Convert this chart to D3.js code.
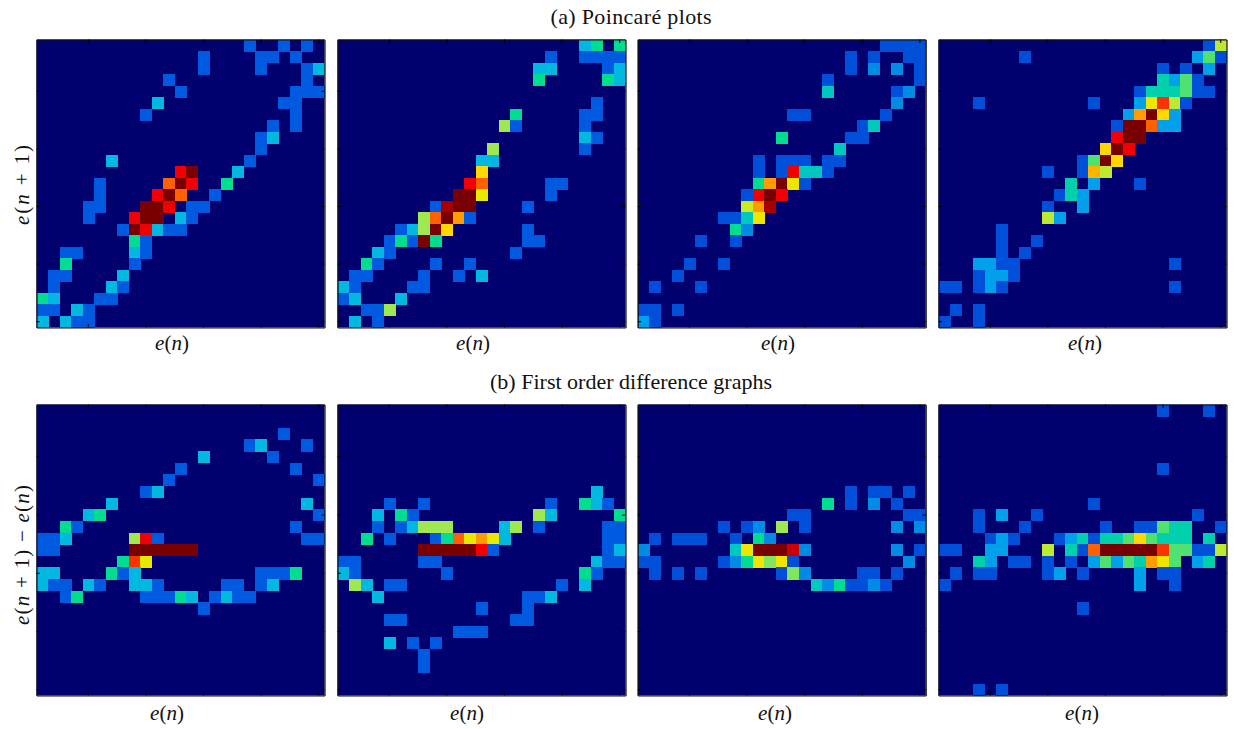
<!DOCTYPE html>
<html><head><meta charset="utf-8">
<script src="https://cdn.jsdelivr.net/npm/d3@7"></script>
<style>html,body{margin:0;padding:0;background:#fff}svg{display:block}text{font-family:"Liberation Serif",serif;fill:#111}</style>
</head><body><svg id="c" width="1234" height="729"></svg>
<script>
// Every entry is [row from top, column, intensity level]; unlisted bins are level 0.
const poincare1 = [
[0,18,1],[0,21,1],[0,23,1],
[1,14,1],[1,19,1],[1,20,1],[1,22,1],
[2,14,1],[2,19,1],[2,23,1],[2,24,2],
[3,11,1],[3,23,1],
[4,12,1],[4,22,1],[4,23,1],[4,24,1],
[5,10,2],[5,21,1],[5,22,1],
[6,9,1],[6,22,1],
[7,20,1],[7,22,1],
[8,19,1],[8,20,2],
[9,19,1],
[10,6,2],[10,18,1],
[11,12,8],[11,13,10],[11,17,2],
[12,5,1],[12,11,7],[12,12,10],[12,13,8],[12,16,3],
[13,5,1],[13,10,8],[13,11,10],[13,12,7],[13,15,1],
[14,4,1],[14,5,1],[14,9,10],[14,10,10],[14,11,8],[14,13,1],[14,14,1],
[15,4,1],[15,8,8],[15,9,10],[15,10,10],[15,12,2],[15,13,1],
[16,7,1],[16,8,10],[16,9,8],[16,10,2],[16,11,1],[16,12,1],
[17,8,3],[17,9,1],
[18,2,1],[18,3,1],[18,8,2],[18,9,1],
[19,2,3],[19,8,1],
[20,1,1],[20,2,1],[20,7,2],
[21,1,1],[21,6,2],[21,7,1],
[22,0,3],[22,1,2],[22,5,1],[22,6,1],
[23,0,1],[23,1,1],[23,3,2],[23,4,1],
[24,0,2],[24,2,2],[24,3,1],[24,4,1]
];
const poincare2 = [
[0,21,2],[0,22,3],[0,24,3],
[1,18,1],[1,21,1],[1,22,1],[1,23,1],[1,24,1],
[2,17,2],[2,18,2],[2,23,1],[2,24,2],
[3,17,3],[3,23,3],[3,24,2],
[5,22,1],
[6,15,3],[6,21,1],[6,22,1],
[7,14,4],[7,15,1],[7,21,1],
[8,21,2],[8,22,1],
[9,13,4],[9,21,1],
[10,12,2],[10,13,2],
[11,12,6],
[12,11,8],[12,12,7],[12,18,1],[12,19,1],
[13,10,10],[13,11,10],[13,12,5],[13,18,1],
[14,8,1],[14,9,9],[14,10,10],[14,11,10],[14,16,1],
[15,7,4],[15,8,7],[15,9,10],[15,10,6.5],[15,11,1],
[16,5,1],[16,6,2],[16,7,4],[16,8,10],[16,9,6],[16,16,1],
[17,4,1],[17,5,3],[17,6,1],[17,7,10],[17,8,3],[17,16,1],[17,17,1],
[18,3,2],[18,4,1],[18,15,1],
[19,2,3],[19,3,1],[19,8,1],[19,11,1],
[20,1,1],[20,2,1],[20,7,1],[20,10,1],[20,12,2],
[21,0,2],[21,1,1],[21,6,1],[21,7,1],
[22,0,1],[22,1,2],[22,5,2],
[23,2,1],[23,3,1],[23,4,4],
[24,1,2],[24,3,1]
];
const poincare3 = [
[0,21,1],[0,22,1],[0,23,1],[0,24,1],
[1,18,1],[1,20,1],[1,23,1],[1,24,1],
[2,18,1],[2,20,1.6],[2,22,1.6],[2,24,1],
[3,16,1],[3,24,1],
[4,16,2.5],[4,22,1],[4,23,1.6],
[5,22,1.6],
[6,13,1],[6,14,1],[6,21,1],
[7,19,1],[7,20,2.5],
[8,12,3],[8,18,1],[8,19,1],
[9,17,2.5],
[10,10,1],[10,12,1],[10,13,1],[10,14,1],[10,16,1],[10,17,1],
[11,10,1],[11,12,1],[11,13,8],[11,14,2.5],[11,15,2.5],[11,16,1],
[12,10,3],[12,11,6.5],[12,12,10],[12,13,5.3],[12,14,1],
[13,9,1],[13,10,8],[13,11,10],[13,12,8],
[14,9,4.6],[14,10,6.5],[14,11,9],
[15,7,1],[15,8,1],[15,9,2.5],[15,10,5.3],
[16,8,3],[16,9,1.6],
[17,5,1],[17,8,1],
[19,4,1],[19,7,1],
[20,3,1],
[21,1,1],[21,5,1],
[23,0,1],[23,1,1],[23,3,1],
[24,0,1.8],[24,1,1]
];
const poincare4 = [
[0,23,1],[0,24,4.4],
[1,7,1],[1,22,1.8],[1,23,3.5],[1,24,1],
[2,19,1],[2,21,1],[2,23,1.8],
[3,19,2.7],[3,20,1.8],[3,21,3.5],[3,22,1],
[4,17,1],[4,18,2.7],[4,19,2.7],[4,20,2.7],[4,21,3.5],[4,22,1],[4,23,1],
[5,3,1],[5,13,1],[5,17,1.8],[5,18,5.3],[5,19,7.5],[5,20,4.4],[5,21,1],
[6,16,1.8],[6,17,6.5],[6,18,10],[6,19,6],[6,20,1.8],
[7,15,1],[7,16,10],[7,17,10],[7,18,7],[7,19,1.8],[7,20,1.8],
[8,15,8],[8,16,10],[8,17,10],
[9,14,6],[9,15,10],[9,16,8],
[10,12,1],[10,13,3.5],[10,14,10],[10,15,6],
[11,9,1],[11,12,1],[11,13,6.3],[11,14,4.4],
[12,11,2.7],[12,13,1.8],[12,17,1],
[13,10,1],[13,11,2.7],[13,12,1.8],
[14,9,1],[14,12,1.8],
[15,9,4.4],[15,10,1.8],
[16,5,1],
[17,5,1],[17,8,1],
[18,5,1],[18,7,1],
[19,3,1.8],[19,4,1.8],[19,5,1],[19,6,1],[19,20,1],
[20,3,1],[20,4,1.8],[20,5,1.8],[20,6,1],
[21,0,1],[21,1,1],[21,3,1],[21,4,1.8],[21,5,1],[21,20,1],
[23,1,1],[23,3,1],
[24,0,1],[24,3,1]
];
const difference1 = [
[2,21,1],
[3,18,1],[3,19,2],[3,23,1],
[4,14,2],[4,20,1],
[5,12,1],[5,22,1],
[6,11,1],[6,24,1],
[7,9,1],[7,10,2],
[8,6,2],[8,23,2],
[9,4,2],[9,5,3],[9,24,1],
[10,2,3],[10,3,1],[10,22,1],
[11,0,1],[11,1,1],[11,2,2],[11,8,4],[11,9,8],[11,10,1],[11,23,1],[11,24,1],
[12,0,1],[12,1,1],[12,8,10],[12,9,10],[12,10,10],[12,11,10],[12,12,10],[12,13,10],
[13,7,3],[13,8,7.5],[13,9,5],
[14,0,2],[14,1,2],[14,6,3],[14,7,1],[14,8,2],[14,19,1],[14,20,1],[14,21,1],[14,22,3],
[15,0,2],[15,1,1],[15,2,1],[15,4,2],[15,5,1],[15,8,2],[15,9,2],[15,10,1],[15,16,1],[15,17,1],[15,19,1],[15,20,2],
[16,2,1],[16,3,3],[16,9,1],[16,10,1],[16,11,1],[16,12,3],[16,13,2],[16,15,1],[16,16,2],[16,17,1],[16,18,1],
[17,14,1]
];
const difference2 = [
[7,22,2],
[8,4,1],[8,7,1],[8,18,1],[8,21,3],[8,22,2],[8,23,1],
[9,3,2],[9,5,3],[9,6,1],[9,17,4],[9,18,2],[9,24,3],
[10,3,1],[10,5,1],[10,6,2],[10,7,4],[10,8,4],[10,9,4],[10,14,2],[10,15,4],[10,17,1],[10,23,1],[10,24,1],
[11,2,3],[11,4,1],[11,8,1],[11,9,3],[11,10,7],[11,11,5],[11,12,6.5],[11,13,5],[11,14,2],[11,23,1],[11,24,1],
[12,7,10],[12,8,10],[12,9,10],[12,10,10],[12,11,10],[12,12,8],[12,13,1],[12,23,1],[12,24,2],
[13,0,1],[13,1,1],[13,7,1],[13,8,1],[13,22,2],[13,23,1],[13,24,1],
[14,0,2],[14,1,1],[14,9,1],[14,21,3],[14,22,1],
[15,1,4],[15,2,2],[15,4,1],[15,5,1],[15,19,1],[15,21,2],
[16,3,2],[16,16,1],[16,17,1],[16,18,2],
[17,12,1],[17,16,1],
[18,4,1],[18,5,1],[18,15,1],[18,16,1],
[19,10,1],[19,11,1],[19,12,1],
[20,4,2],[20,6,1],[20,8,1],
[21,7,1],
[22,7,1]
];
const difference3 = [
[7,18,1],[7,20,1],[7,21,1],[7,23,1],
[8,16,3],[8,18,1],[8,20,1.6],[8,22,1],
[9,13,1],[9,14,1],[9,23,1],[9,24,1],
[10,7,1],[10,9,1],[10,10,1.6],[10,12,4],[10,14,1],[10,22,1.6],[10,24,1.6],
[11,1,1],[11,3,1],[11,4,1],[11,5,1],[11,8,1],[11,10,3],[11,11,1.6],
[12,0,1.6],[12,8,2.5],[12,9,5.3],[12,10,10],[12,11,10],[12,12,10],[12,13,8.5],[12,14,1.6],[12,22,1.6],[12,24,1],
[13,0,1],[13,1,1],[13,7,1],[13,8,1.6],[13,9,3],[13,10,5.3],[13,11,3.8],[13,12,5.3],[13,13,1],[13,23,1.6],
[14,1,1],[14,3,1],[14,5,1],[14,12,1],[14,13,3.8],[14,14,1.6],[14,19,1],[14,20,1],[14,22,1],
[15,15,2.5],[15,16,1.6],[15,17,3],[15,18,1],[15,19,1],[15,20,1.6],[15,21,1]
];
const difference4 = [
[0,19,1],[0,23,1],
[5,19,1],
[8,13,1],
[9,3,1],[9,5,1.8],[9,8,1],[9,22,1],
[10,3,1],[10,7,1],[10,14,1],[10,17,1],[10,18,1],[10,19,3.5],[10,20,2.7],[10,21,2.7],[10,24,1],
[11,4,1],[11,5,1.8],[11,6,1],[11,10,1],[11,11,1.8],[11,12,2.7],[11,13,1],[11,14,2.7],[11,15,2.7],[11,16,3.5],[11,17,6],[11,18,3.5],[11,19,2.7],[11,20,2.7],[11,21,2.7],[11,23,2.7],
[12,0,1],[12,1,1],[12,4,1.8],[12,5,1.8],[12,9,4.4],[12,11,2.7],[12,12,1],[12,13,7],[12,14,10],[12,15,10],[12,16,10],[12,17,10],[12,18,10],[12,19,7.5],[12,20,3.5],[12,21,3.5],[12,22,1],[12,23,1],[12,24,4.4],
[13,3,2.7],[13,4,1.8],[13,6,1],[13,7,1],[13,9,1],[13,11,1],[13,13,1.8],[13,14,3.5],[13,15,1.8],[13,16,3.5],[13,17,2.7],[13,18,6.5],[13,19,5.3],[13,20,3.5],[13,22,1.8],[13,23,2.7],
[14,1,1],[14,3,1],[14,4,1],[14,9,1],[14,10,1.8],[14,12,1],[14,17,1.8],[14,19,1],[14,20,1],
[15,0,1],[15,17,1.8],[15,20,1],
[17,12,1],
[24,3,1],[24,5,1]
];
const panelData = [poincare1, poincare2, poincare3, poincare4, difference1, difference2, difference3, difference4];
const colorLevels = [0,1,2,3,4,5,6,7,8,9,10];
const colorStopsWarm = ["#00006e","#005ae0","#00b8e0","#00dc90","#a0e850","#eaea00","#ffd800","#ff6000","#f00000","#a80000","#780000"];
const colorStopsCool = ["#00006e","#0050d8","#00b4ee","#00dc90","#a0e850","#eaea00","#ffd800","#ff6000","#f00000","#a80000","#780000"];
const panelPalette = [colorStopsWarm,colorStopsWarm,colorStopsCool,colorStopsCool,colorStopsWarm,colorStopsWarm,colorStopsCool,colorStopsCool];
const bins = d3.range(25);
const tickBins = [4,9,14,19,24];
const titles = ["(a) Poincaré plots","(b) First order difference graphs"];

const lefts = [36.5,337.5,637.7,938.5], cellSpan = 288;
const rowsLayout = [{top:39.5,h:288,labelY:350,labelX:[172,473,778,1085],titleY:24,titleW:161},
                    {top:404.5,h:291,labelY:720,labelX:[167,467,775,1082],titleY:389,titleW:282}];
const svg = d3.select("#c");
const defs = svg.append("defs");
defs.append("filter").attr("id","soft").attr("x",0).attr("y",0).attr("width",1).attr("height",1)
  .append("feGaussianBlur").attr("stdDeviation",0.45);

function mathText(sel, parts){
  parts.forEach(p => sel.append("tspan").style("font-style", p[1] ? "italic" : "normal").text(p[0]));
}
panelData.forEach((data,i)=>{
  const color = d3.scaleLinear().domain(colorLevels).range(panelPalette[i]);
  const lay = rowsLayout[i<4?0:1], left = lefts[i%4];
  const x = d3.scaleBand().domain(bins).range([0,cellSpan]);
  const y = d3.scaleBand().domain(bins).range([0,lay.h]);
  const g = svg.append("g").attr("transform",`translate(${left},${lay.top})`);
  const heat = g.append("g").attr("filter","url(#soft)");
  heat.append("rect").attr("width",cellSpan).attr("height",lay.h).attr("fill",color(0));
  heat.append("g").attr("shape-rendering","crispEdges").selectAll("rect").data(data).join("rect")
    .attr("x",d=>x(d[1])).attr("y",d=>y(d[0]))
    .attr("width",x.bandwidth()+0.5).attr("height",y.bandwidth()+0.5)
    .attr("fill",d=>color(d[2]));
  const axes = [
    [d3.axisBottom(x),0,lay.h],[d3.axisTop(x),0,0],
    [d3.axisLeft(y),0,0],[d3.axisRight(y),cellSpan,0]];
  axes.forEach(([a,tx,ty])=>{
    const ag = g.append("g").attr("transform",`translate(${tx},${ty})`)
      .call(a.tickValues(tickBins).tickSizeInner(-3.5).tickSizeOuter(0).tickFormat(""));
    ag.selectAll("line").attr("stroke","#000").attr("stroke-width",1);
    ag.select(".domain").attr("stroke","#111").attr("stroke-width",1.2);
  });
  const lab = svg.append("text").attr("x",lay.labelX[i%4]).attr("y",lay.labelY)
    .attr("text-anchor","middle").attr("font-size",21);
  mathText(lab,[["e",1],["(",0],["n",1],[")",0]]);
});
rowsLayout.forEach((lay,k)=>{
  svg.append("text").attr("x",631).attr("y",lay.titleY).attr("text-anchor","middle")
    .attr("font-size",22).attr("textLength",lay.titleW).attr("lengthAdjust","spacing").text(titles[k]);
});
const yl1 = svg.append("text").attr("transform","translate(29,185) rotate(-90)").attr("text-anchor","middle")
  .attr("font-size",21).attr("textLength",80).attr("lengthAdjust","spacing");
mathText(yl1,[["e",1],["(",0],["n",1],[" + 1)",0]]);
const yl2 = svg.append("text").attr("transform","translate(29,555) rotate(-90)").attr("text-anchor","middle")
  .attr("font-size",21).attr("textLength",140).attr("lengthAdjust","spacing");
mathText(yl2,[["e",1],["(",0],["n",1],[" + 1) − ",0],["e",1],["(",0],["n",1],[")",0]]);
</script></body></html>
